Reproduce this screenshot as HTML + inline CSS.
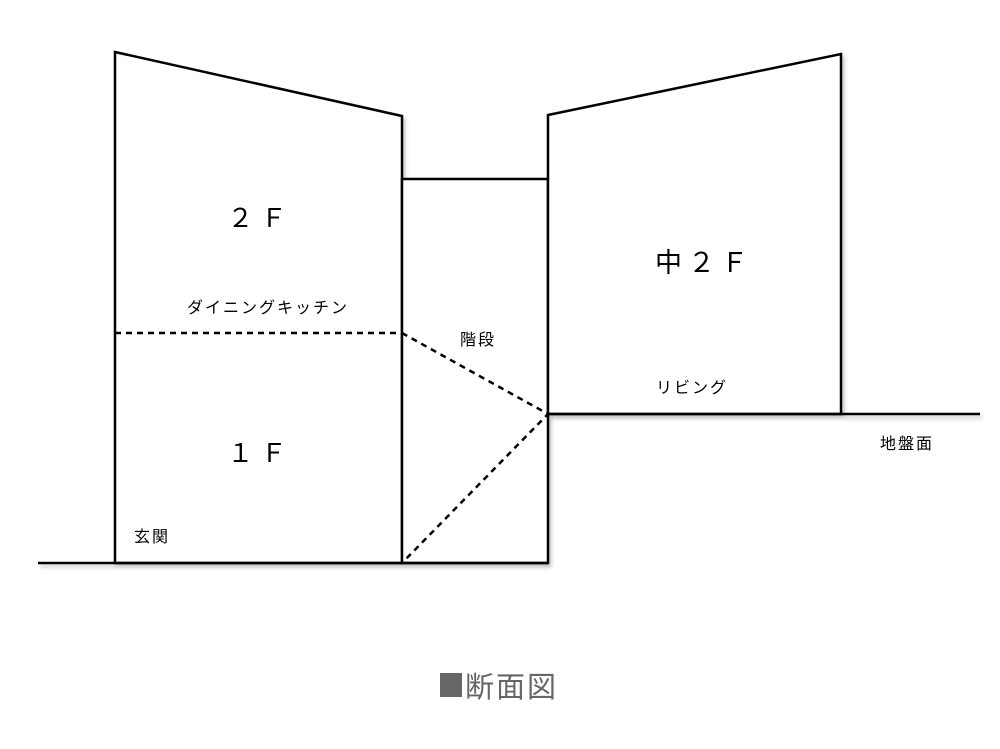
<!DOCTYPE html>
<html><head><meta charset="utf-8"><style>
html,body{margin:0;padding:0;background:#fff;}
svg{display:block;}
text{font-family:"Liberation Sans","Noto Sans CJK JP",sans-serif;fill:#000;}
</style></head><body>
<svg width="1000" height="749" viewBox="0 0 1000 749">
<defs>
<filter id="sh" x="-10%" y="-10%" width="120%" height="120%">
<feGaussianBlur in="SourceAlpha" stdDeviation="2"/>
<feOffset dx="2" dy="3" result="b"/>
<feComponentTransfer><feFuncA type="linear" slope="0.25"/></feComponentTransfer>
<feMerge><feMergeNode/><feMergeNode in="SourceGraphic"/></feMerge>
</filter>
</defs>
<g fill="none" stroke="#000" stroke-width="2.5" filter="url(#sh)">
<polygon points="115,52 402,116 402,563 115,563" fill="#fff"/>
<rect x="402" y="179" width="146" height="384" fill="#fff"/>
<polygon points="548,115 841,54 841,414 548,414" fill="#fff"/>
<line x1="38" y1="563" x2="548" y2="563"/>
<line x1="548" y1="414" x2="980" y2="414"/>
</g>
<g fill="none" stroke="#000" stroke-width="2.5" stroke-dasharray="6,5">
<line x1="115" y1="333" x2="402" y2="333"/>
<polyline points="402,333 548,414 402,563"/>
</g>
<text x="257" y="227" font-size="26" text-anchor="middle">２ Ｆ</text>
<text x="257" y="462" font-size="26" text-anchor="middle">１ Ｆ</text>
<text x="655" y="272" font-size="27" letter-spacing="6">中２Ｆ</text>
<g font-size="16" letter-spacing="2">
<text x="187" y="313">ダイニングキッチン</text>
<text x="460" y="345">階段</text>
<text x="656" y="393">リビング</text>
<text x="880" y="449">地盤面</text>
<text x="134" y="542">玄関</text>
</g>
<rect x="440" y="673" width="22" height="24" fill="#666"/>
<text x="465" y="697" font-size="29" letter-spacing="2" style="fill:#666">断面図</text>
</svg>
</body></html>
